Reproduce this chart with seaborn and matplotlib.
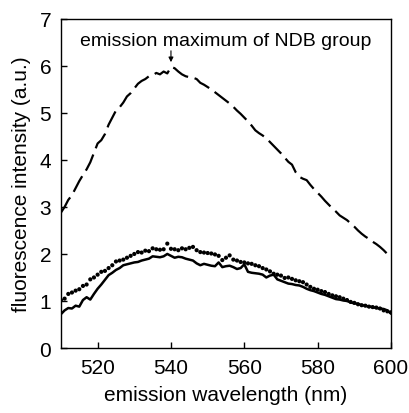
import numpy as np
import pandas as pd
import matplotlib
matplotlib.use("Agg")
import matplotlib.pyplot as plt
import seaborn as sns

# emission wavelength, 510-600 nm in 1 nm steps
wavelength = list(range(510, 601))

# NDB group alone (dashed)
ndb = [2.88, 3.00, 3.15, 3.25, 3.40, 3.55, 3.68, 3.80, 3.95, 4.15,
       4.35, 4.42, 4.55, 4.75, 4.90, 5.05, 5.12, 5.22, 5.35, 5.42,
       5.52, 5.62, 5.68, 5.72, 5.78, 5.80, 5.85, 5.82, 5.88, 5.84,
       5.98, 5.95, 5.88, 5.82, 5.78, 5.76, 5.75, 5.72, 5.64, 5.60,
       5.55, 5.50, 5.44, 5.38, 5.32, 5.26, 5.20, 5.13, 5.05, 4.98,
       4.90, 4.82, 4.73, 4.63, 4.57, 4.52, 4.46, 4.38, 4.30, 4.22,
       4.14, 4.05, 3.96, 3.90, 3.74, 3.64, 3.60, 3.57, 3.47, 3.38,
       3.30, 3.22, 3.13, 3.05, 2.97, 2.90, 2.82, 2.77, 2.72, 2.65,
       2.58, 2.50, 2.43, 2.37, 2.32, 2.26, 2.21, 2.15, 2.08, 2.00,
       1.95]

# solid trace
solid = [0.72, 0.80, 0.85, 0.84, 0.90, 0.88, 1.02, 1.08, 1.03, 1.15,
         1.26, 1.35, 1.45, 1.55, 1.60, 1.66, 1.70, 1.76, 1.78, 1.80,
         1.82, 1.83, 1.86, 1.88, 1.90, 1.95, 1.94, 1.93, 1.95, 2.00,
         1.96, 1.92, 1.94, 1.93, 1.90, 1.88, 1.86, 1.80, 1.76, 1.79,
         1.77, 1.75, 1.74, 1.82, 1.72, 1.74, 1.75, 1.72, 1.68, 1.70,
         1.78, 1.62, 1.60, 1.59, 1.58, 1.56, 1.50, 1.54, 1.56, 1.46,
         1.43, 1.40, 1.37, 1.36, 1.34, 1.33, 1.30, 1.26, 1.23, 1.21,
         1.18, 1.15, 1.13, 1.10, 1.07, 1.04, 1.03, 1.01, 1.00, 0.97,
         0.95, 0.94, 0.91, 0.90, 0.88, 0.87, 0.85, 0.84, 0.83, 0.80,
         0.73]

# dotted trace
dotted = [1.02, 1.05, 1.15, 1.18, 1.22, 1.25, 1.32, 1.35, 1.46, 1.50,
          1.56, 1.62, 1.64, 1.70, 1.76, 1.84, 1.86, 1.88, 1.92, 1.96,
          2.00, 2.04, 2.03, 2.07, 2.06, 2.12, 2.10, 2.09, 2.10, 2.22,
          2.11, 2.10, 2.08, 2.12, 2.10, 2.13, 2.15, 2.08, 2.04, 2.03,
          2.02, 2.01, 1.99, 1.96, 1.87, 1.92, 1.97, 1.88, 1.86, 1.83,
          1.82, 1.80, 1.79, 1.76, 1.74, 1.70, 1.67, 1.63, 1.58, 1.56,
          1.54, 1.49, 1.50, 1.47, 1.44, 1.42, 1.40, 1.35, 1.30, 1.26,
          1.24, 1.21, 1.19, 1.15, 1.12, 1.10, 1.08, 1.05, 1.02, 0.98,
          0.96, 0.93, 0.91, 0.90, 0.88, 0.87, 0.86, 0.84, 0.80, 0.78,
          0.76]

x_ticks = [520, 540, 560, 580, 600]
y_ticks = [0, 1, 2, 3, 4, 5, 6, 7]

df = pd.DataFrame({"wl": wavelength, "ndb": ndb, "solid": solid, "dotted": dotted})

sns.set_style("ticks")
plt.rcParams["font.family"] = ["Liberation Sans", "DejaVu Sans"]
plt.rcParams["xtick.direction"] = "in"
plt.rcParams["ytick.direction"] = "in"
plt.rcParams["text.color"] = "black"
plt.rcParams["axes.labelcolor"] = "black"
plt.rcParams["xtick.color"] = "black"
plt.rcParams["ytick.color"] = "black"

fig = plt.figure(figsize=(4.09, 4.14), dpi=100)
ax = fig.add_axes([0.149, 0.157, 0.807, 0.795])

sns.lineplot(data=df, x="wl", y="ndb", ax=ax, color="black", lw=1.6,
             linestyle=(0, (8, 3)))
sns.lineplot(data=df, x="wl", y="solid", ax=ax, color="black", lw=1.8)
sns.scatterplot(data=df, x="wl", y="dotted", ax=ax, color="black", s=9,
                edgecolor="none")

ax.set_xlim(510, 600)
ax.set_ylim(0, 7)
ax.set_xticks(x_ticks)
ax.set_yticks(y_ticks)
ax.tick_params(labelsize=15, length=4, width=1, pad=7)
ax.set_xlabel("emission wavelength (nm)", fontsize=15, labelpad=6)
ax.set_ylabel("fluorescence intensity (a.u.)", fontsize=15, labelpad=6)
for s in ax.spines.values():
    s.set_linewidth(1)
    s.set_color("black")

ax.annotate("", xy=(540, 6.02), xytext=(540, 6.38),
            arrowprops=dict(arrowstyle="-|>", color="black", lw=0.8,
                            mutation_scale=7))
ax.text(0.5, 0.96, "emission maximum of NDB group", transform=ax.transAxes,
        ha="center", va="top", fontsize=14)

fig.savefig("out.png", dpi=100)
